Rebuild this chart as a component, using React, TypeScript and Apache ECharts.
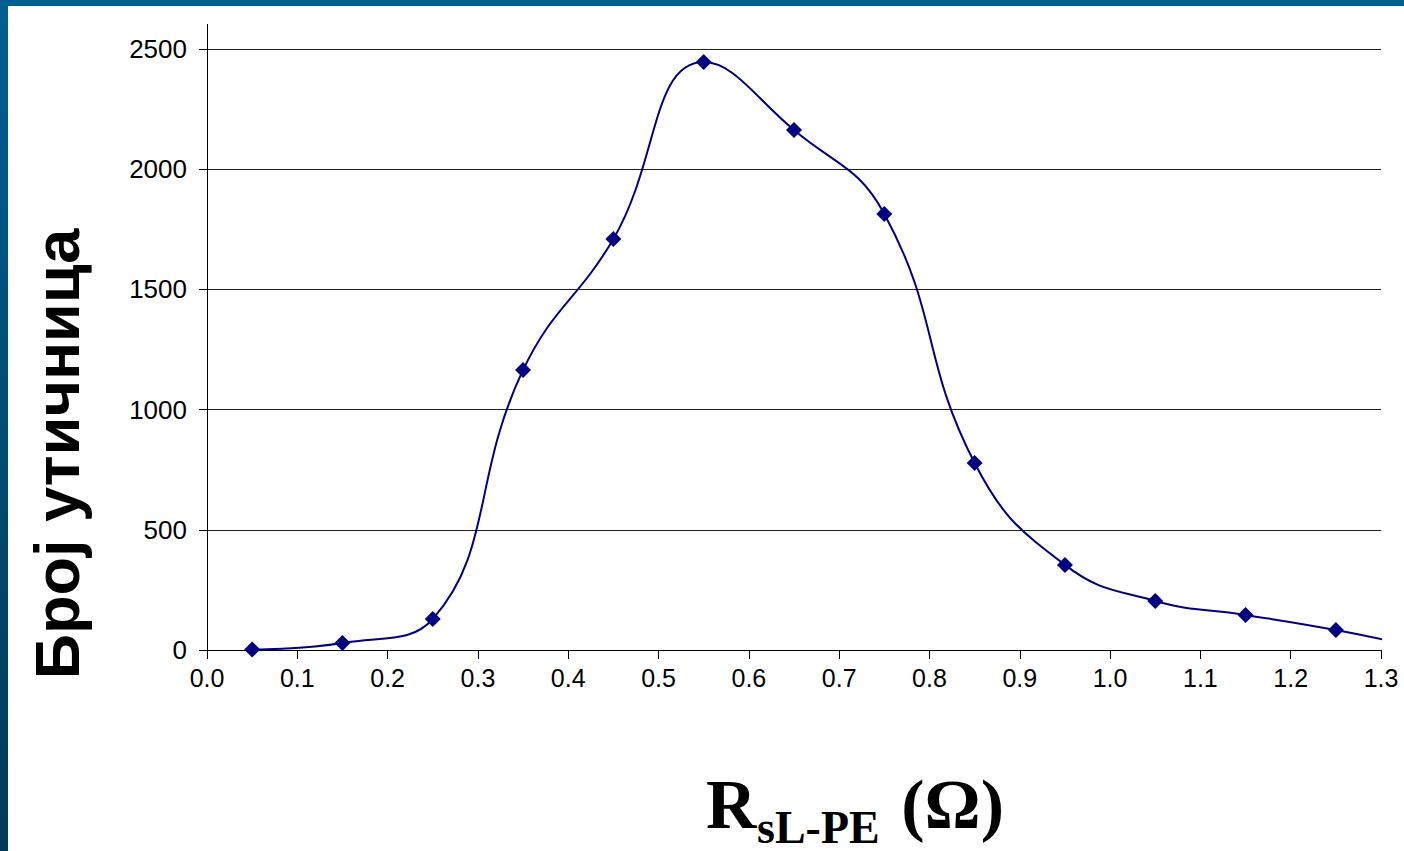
import React, { useEffect, useRef } from "react";
import * as echarts from "echarts";

const resistance = [0.05, 0.15, 0.25, 0.35, 0.45, 0.55, 0.65, 0.75, 0.85, 0.95, 1.05, 1.15, 1.25];
const counts = [2, 29, 129, 1165, 1710, 2446, 2163, 1814, 778, 354, 204, 146, 83];
// continuation point beyond the visible axis (curve leaves the plot at 1.3)
const tailX = 1.35;
const tailY = 5;
const xTicks = ["0.0", "0.1", "0.2", "0.3", "0.4", "0.5", "0.6", "0.7", "0.8", "0.9", "1.0", "1.1", "1.2", "1.3"];
const yTitle = "Број утичница";

const serif = "Liberation Serif, Times New Roman, serif";
const sans = "Liberation Sans, Arial, sans-serif";

export default function App() {
  const ref = useRef<HTMLDivElement>(null);
  useEffect(() => {
    document.body.style.margin = "0";
    const chart = echarts.init(ref.current!, null, { renderer: "svg" });
    const data: any[] = resistance.map((x, i) => [x, counts[i]]);
    data.push({ value: [tailX, tailY], symbol: "none" });
    chart.setOption({
      animation: false,
      backgroundColor: "#ffffff",
      grid: { left: 207, right: 23, top: 49, bottom: 201, containLabel: false },
      xAxis: {
        type: "value",
        min: 0,
        max: 1.3,
        interval: 0.1,
        axisLine: { show: true, onZero: false, lineStyle: { color: "#000", width: 1 } },
        axisTick: { show: true, length: 9, lineStyle: { color: "#000" } },
        splitLine: { show: false },
        axisLabel: {
          margin: 15,
          fontFamily: sans,
          fontSize: 25,
          color: "#000",
          formatter: (v: number) => xTicks[Math.round(v * 10)] ?? v.toFixed(1),
        },
      },
      yAxis: {
        type: "value",
        min: 0,
        max: 2500,
        interval: 500,
        axisLine: { show: true, lineStyle: { color: "#000", width: 1 } },
        axisTick: { show: true, length: 8, lineStyle: { color: "#000" } },
        splitLine: { show: true, lineStyle: { color: "#222", width: 1 } },
        axisLabel: {
          margin: 20,
          fontFamily: sans,
          fontSize: 26,
          color: "#000",
          formatter: (v: number) => String(v),
        },
      },
      series: [
        {
          type: "line",
          data,
          smooth: 0.45,
          clip: true,
          symbol: "diamond",
          symbolSize: 16,
          showSymbol: true,
          lineStyle: { color: "#000080", width: 2 },
          itemStyle: { color: "#000080" },
        },
      ],
      graphic: [
        {
          type: "rect",
          shape: { x: 0, y: 0, width: 1404, height: 6 },
          style: { fill: "#005f91" },
        },
        {
          type: "rect",
          shape: { x: 0, y: 0, width: 8, height: 851 },
          style: {
            fill: new echarts.graphic.LinearGradient(0, 0, 0, 1, [
              { offset: 0, color: "#005f91" },
              { offset: 1, color: "#003a58" },
            ]),
          },
        },
        {
          type: "line",
          shape: { x1: 207.5, y1: 24, x2: 207.5, y2: 49 },
          style: { stroke: "#000", lineWidth: 1 },
        },
        {
          type: "text",
          x: 57,
          y: 454,
          rotation: Math.PI / 2,
          style: {
            text: yTitle,
            fontFamily: sans,
            fontWeight: "bold",
            fontSize: 63,
            fill: "#000",
            align: "center",
            verticalAlign: "middle",
          },
        },
        {
          type: "text",
          x: 706,
          y: 804,
          style: {
            text: "R",
            fontFamily: serif,
            fontWeight: "bold",
            fontSize: 70,
            fill: "#000",
            align: "left",
            verticalAlign: "middle",
          },
        },
        {
          type: "text",
          x: 757,
          y: 827,
          style: {
            text: "sL-PE",
            fontFamily: serif,
            fontWeight: "bold",
            fontSize: 46,
            lineHeight: 34,
            fill: "#000",
            align: "left",
            verticalAlign: "middle",
          },
        },
        {
          type: "text",
          x: 1004,
          y: 804,
          style: {
            text: "(Ω)",
            fontFamily: serif,
            fontWeight: "bold",
            fontSize: 70,
            fill: "#000",
            align: "right",
            verticalAlign: "middle",
          },
        },
      ],
    });
    return () => chart.dispose();
  }, []);
  return <div ref={ref} style={{ position: "fixed", left: 0, top: 0, width: 1404, height: 851 }} />;
}
